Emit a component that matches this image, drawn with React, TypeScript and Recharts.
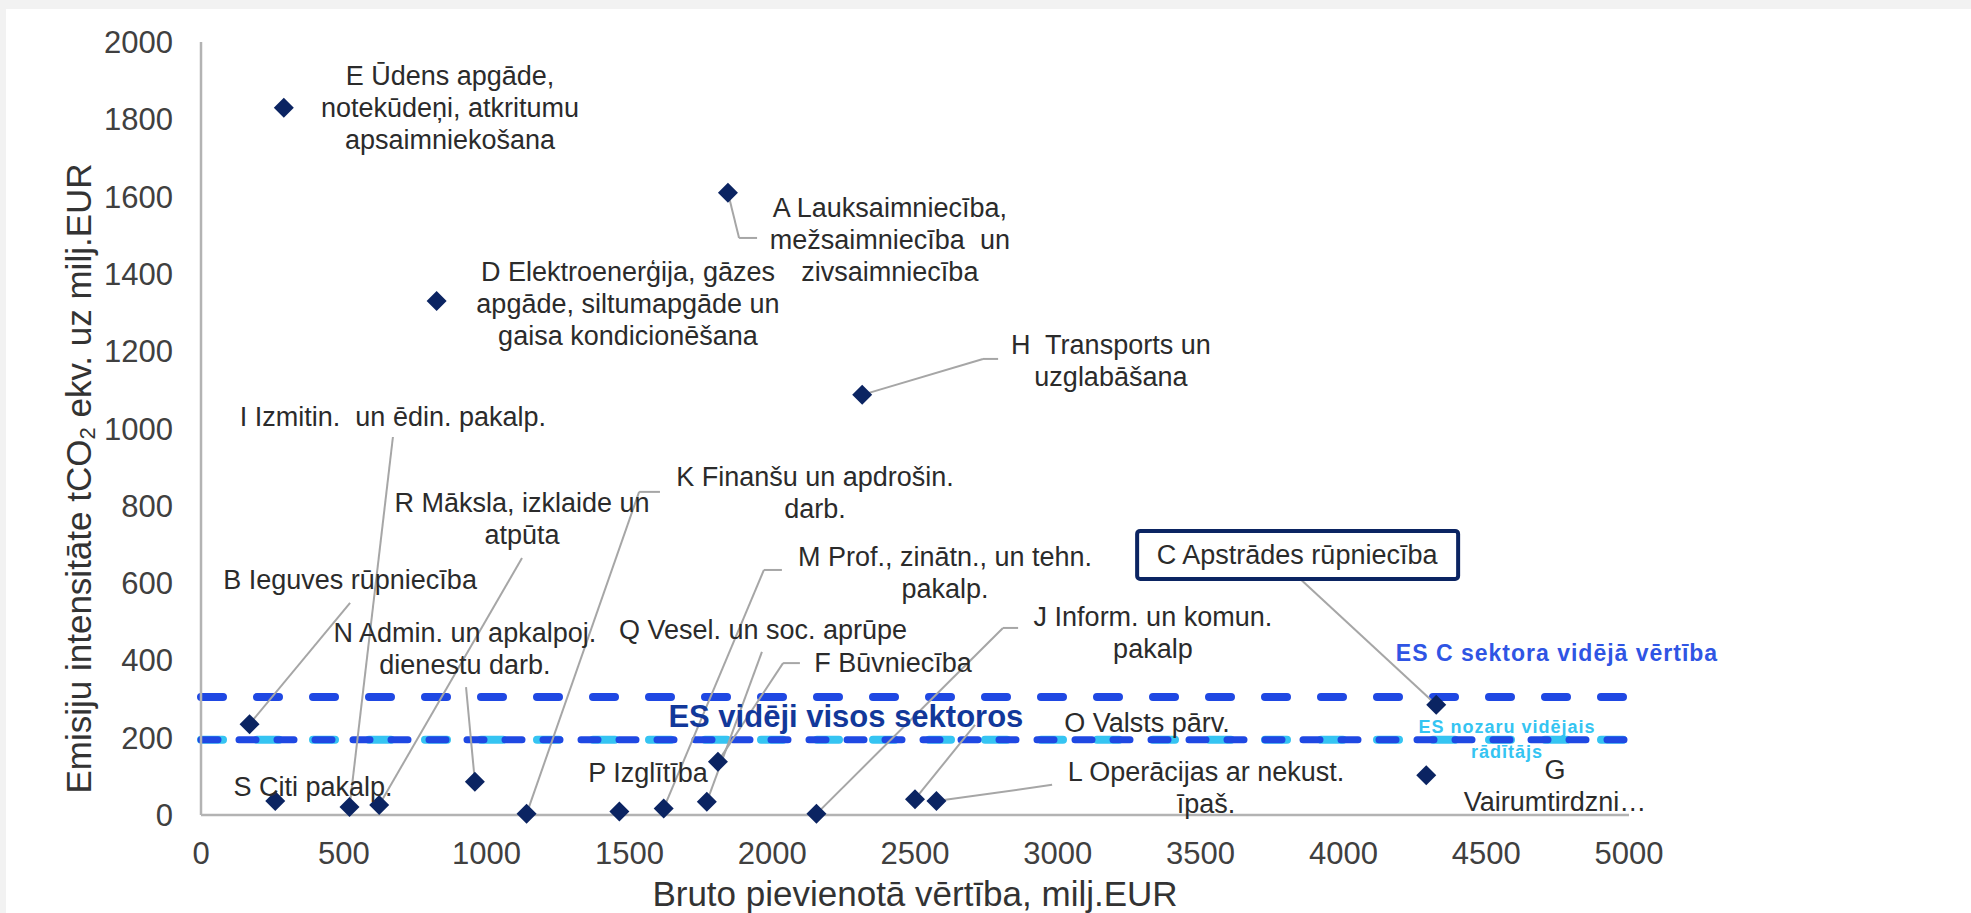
import React from "react";
import { ScatterChart, Scatter, XAxis, YAxis, ReferenceLine } from "recharts";

// Nozares (NACE sekcijas)
const sectorCodes = ["A", "B", "C", "D", "E", "F", "G", "H", "I", "J", "K", "L", "M", "N", "O", "P", "Q", "R", "S"];

const sectorLabels = [
  ["A Lauksaimniecība,", "mežsaimniecība  un", "zivsaimniecība"],
  ["B Ieguves rūpniecība"],
  ["C Apstrādes rūpniecība"],
  ["D Elektroenerģija, gāzes", "apgāde, siltumapgāde un", "gaisa kondicionēšana"],
  ["E Ūdens apgāde,", "notekūdeņi, atkritumu", "apsaimniekošana"],
  ["F Būvniecība"],
  ["G", "Vairumtirdzni…"],
  ["H  Transports un", "uzglabāšana"],
  ["I Izmitin.  un ēdin. pakalp."],
  ["J Inform. un komun.", "pakalp"],
  ["K Finanšu un apdrošin.", "darb."],
  ["L Operācijas ar nekust.", "īpaš."],
  ["M Prof., zinātn., un tehn.", "pakalp."],
  ["N Admin. un apkalpoj.", "dienestu darb."],
  ["O Valsts pārv."],
  ["P Izglītība"],
  ["Q Vesel. un soc. aprūpe"],
  ["R Māksla, izklaide un", "atpūta"],
  ["S Citi pakalp."],
];

// Bruto pievienotā vērtība, milj.EUR
const grossValueAdded = [1845, 170, 4325, 825, 290, 1810, 4290, 2315, 520, 2155, 1140, 2575, 1620, 959, 2500, 1465, 1771, 624, 260];
// Emisiju intensitāte, tCO2 ekv. uz milj.EUR
const emissionIntensity = [1610, 235, 285, 1330, 1830, 138, 103, 1087, 21, 3, 3, 36, 17, 86, 41, 9, 34, 26, 36];

const xTicks = [0, 500, 1000, 1500, 2000, 2500, 3000, 3500, 4000, 4500, 5000];
const yTicks = [0, 200, 400, 600, 800, 1000, 1200, 1400, 1600, 1800, 2000];

const euAverageC = 305;
const euAverageAll = 195;
const euAverageNace = 195;

const noteTexts = [
  ["ES vidēji visos sektoros"],
  ["ES C sektora vidējā vērtība"],
  ["ES nozaru vidējais", "rādītājs"],
];

// label layout in axis units (anchor = centre of first line)
const labelAnchors: [number, number][] = [
  [2412, 1570], [522, 608], [3838, 673], [1495, 1405], [872, 1912], [2423, 393], [4741, 116],
  [3186, 1216], [672, 1030], [3333, 512], [2150, 875], [3519, 111], [2605, 668], [924, 471],
  [3312, 238], [1565, 109], [1968, 479], [1124, 807], [392, 72],
];
const leaderBends: [number, number][][] = [
  [[1947, 1493], [1884, 1493]], [[522, 549]], [[3848, 611]], [], [], [[2097, 393], [2038, 393]], [],
  [[2791, 1180], [2738, 1180]], [[672, 978]], [[2861, 484], [2808, 484]], [[1607, 836], [1534, 836]],
  [[2980, 78]], [[2034, 634], [1971, 634]], [[928, 331]], [[2710, 233]], [], [[1964, 422]], [[1124, 665]], [],
];
const noteAnchors: [number, number][] = [[2258, 254], [4748, 419], [4573, 228]];

const FONT = "'Liberation Sans', Arial, sans-serif";
const NAVY = "#0b2462";
const BLUE = "#1f48e3";
const CYAN = "#35c4f2";

const points = sectorCodes.map((code, i) => ({ code, x: grossValueAdded[i], y: emissionIntensity[i] }));
const labels = sectorCodes.map((code, i) => ({
  code,
  x: labelAnchors[i][0],
  y: labelAnchors[i][1],
  lines: sectorLabels[i],
  boxed: code === "C",
}));
const notes = noteTexts.map((lines, i) => ({ x: noteAnchors[i][0], y: noteAnchors[i][1], lines, idx: i }));

const leaderSegments = sectorCodes.flatMap((code, i) => {
  const path = [...leaderBends[i], [grossValueAdded[i], emissionIntensity[i]] as [number, number]];
  if (path.length < 2) return [];
  return path.slice(1).map((p, k) => ({ key: `${code}-${k}`, a: path[k], b: p }));
});

const Diamond = (props: any) => {
  const { cx, cy } = props;
  const r = 10;
  return <path d={`M${cx},${cy - r}L${cx + r},${cy}L${cx},${cy + r}L${cx - r},${cy}Z`} fill={NAVY} />;
};

const SectorLabel = (props: any) => {
  const { cx, cy, payload } = props;
  return (
    <g>
      {payload.boxed && (
        <rect x={cx - 160} y={cy - 24} width={321} height={48} rx={3} fill="#fff" stroke={NAVY} strokeWidth={4} />
      )}
      {payload.lines.map((t: string, i: number) => (
        <text
          key={i}
          x={cx}
          y={cy + i * 32}
          textAnchor="middle"
          dominantBaseline="central"
          fontSize={27}
          fill="#2b2b2b"
          fontFamily={FONT}
          style={{ whiteSpace: "pre" }}
        >
          {t}
        </text>
      ))}
    </g>
  );
};

const noteStyles = [
  { fontSize: 31, fill: "#12389a", letterSpacing: 0, lineGap: 0 },
  { fontSize: 23, fill: "#2f55e4", letterSpacing: 1, lineGap: 0 },
  { fontSize: 18, fill: CYAN, letterSpacing: 1, lineGap: 25 },
];

const NoteLabel = (props: any) => {
  const { cx, cy, payload } = props;
  const s = noteStyles[payload.idx];
  return (
    <g>
      {payload.lines.map((t: string, i: number) => (
        <text
          key={i}
          x={cx}
          y={cy + i * s.lineGap}
          textAnchor="middle"
          dominantBaseline="central"
          fontSize={s.fontSize}
          fontWeight="bold"
          letterSpacing={s.letterSpacing}
          fill={s.fill}
          fontFamily={FONT}
        >
          {t}
        </text>
      ))}
    </g>
  );
};

const XTitle = (props: any) => {
  const vb = props.viewBox;
  return (
    <text x={vb.x + vb.width / 2} y={vb.y + 78} textAnchor="middle" dominantBaseline="central" fontSize={35} fill="#333" fontFamily={FONT}>
      Bruto pievienotā vērtība, milj.EUR
    </text>
  );
};

const YTitle = (props: any) => {
  const vb = props.viewBox;
  const x = vb.x + vb.width - 123;
  const y = vb.y + vb.height / 2 + 50;
  return (
    <text x={x} y={y} transform={`rotate(-90, ${x}, ${y})`} textAnchor="middle" dominantBaseline="central" fontSize={35} fill="#333" fontFamily={FONT}>
      Emisiju intensitāte tCO
      <tspan fontSize={22} dy={9}>2</tspan>
      <tspan dy={-9}> ekv. uz milj.EUR</tspan>
    </text>
  );
};

export default function App() {
  return (
    <div style={{ position: "absolute", left: 0, top: 0, width: 1971, height: 913, background: "#f2f2f2" }}>
      <div style={{ position: "absolute", left: 6, top: 9, width: 1965, height: 904, background: "#fff" }}>
        <ScatterChart width={1965} height={904} margin={{ top: 33, right: 342, bottom: 38, left: 95 }}>
          <XAxis
            type="number"
            dataKey="x"
            domain={[0, 5000]}
            ticks={xTicks}
            height={60}
            tickLine={false}
            tickSize={0}
            tickMargin={27}
            axisLine={{ stroke: "#b3b3b3", strokeWidth: 2.5 }}
            tick={{ fontSize: 31, fill: "#404040", fontFamily: FONT }}
            label={XTitle}
          />
          <YAxis
            type="number"
            dataKey="y"
            domain={[0, 2000]}
            ticks={yTicks}
            width={100}
            tickLine={false}
            tickSize={0}
            tickMargin={28}
            axisLine={{ stroke: "#b3b3b3", strokeWidth: 2.5 }}
            tick={{ fontSize: 31, fill: "#404040", fontFamily: FONT }}
            label={YTitle}
          />
          <ReferenceLine y={euAverageNace} stroke={CYAN} strokeWidth={8} strokeDasharray="22 34" strokeLinecap="round" />
          <ReferenceLine y={euAverageAll} stroke={BLUE} strokeWidth={7} strokeDasharray="17 21" strokeLinecap="round" />
          <ReferenceLine y={euAverageC} stroke={BLUE} strokeWidth={8} strokeDasharray="22 34" strokeLinecap="round" />
          <Scatter data={points} shape={Diamond} isAnimationActive={false} />
          {leaderSegments.map((s) => (
            <ReferenceLine
              key={s.key}
              segment={[{ x: s.a[0], y: s.a[1] }, { x: s.b[0], y: s.b[1] }]}
              stroke="#a6a6a6"
              strokeWidth={2}
              ifOverflow="visible"
            />
          ))}
          <Scatter data={labels} shape={SectorLabel} isAnimationActive={false} />
          <Scatter data={notes} shape={NoteLabel} isAnimationActive={false} />
        </ScatterChart>
      </div>
    </div>
  );
}
